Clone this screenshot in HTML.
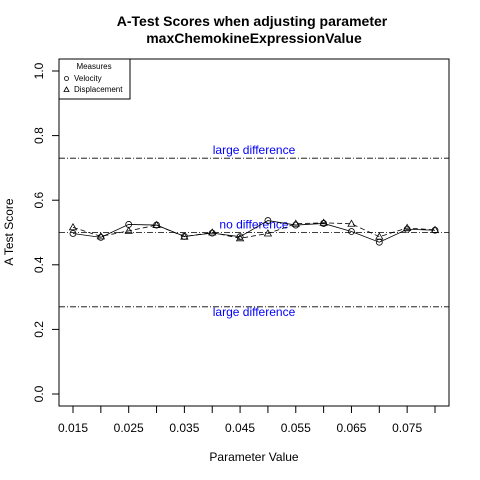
<!DOCTYPE html>
<html><head><meta charset="utf-8"><style>
body{margin:0;background:#fff}
svg{display:block;font-family:"Liberation Sans",sans-serif}
</style></head><body>
<svg id="chart" width="480" height="480" viewBox="0 0 480 480">
<text x="252" y="26" text-anchor="middle" font-size="14" font-weight="bold">A-Test Scores when adjusting parameter</text>
<text x="254" y="43" text-anchor="middle" font-size="14" font-weight="bold">maxChemokineExpressionValue</text>
<rect x="59" y="59" width="390" height="347" fill="none" stroke="#000"/>
<text x="254" y="461" text-anchor="middle" font-size="12">Parameter Value</text>
<text transform="translate(13,232) rotate(-90)" text-anchor="middle" font-size="12">A Test Score</text>
<g id="axes"></g>
<g id="refs"></g>
<g id="series"></g>
<g>
<rect x="59" y="59" width="71" height="40" fill="#fff" stroke="#000"/>
<text x="94" y="69" text-anchor="middle" font-size="8">Measures</text>
<circle cx="66.5" cy="78.5" r="2" fill="none" stroke="#000" stroke-width="0.8"/>
<text x="74" y="81" font-size="8">Velocity</text>
<path d="M64,91.5 L66.5,87 L69,91.5 Z" fill="none" stroke="#000" stroke-width="0.8"/>
<text x="74" y="92" font-size="8">Displacement</text>
</g>
</svg>
<script>
const params=[0.015,0.020,0.025,0.030,0.035,0.040,0.045,0.050,0.055,0.060,0.065,0.070,0.075,0.080];
const velocity=[0.497,0.485,0.525,0.523,0.488,0.498,0.487,0.537,0.523,0.528,0.503,0.470,0.510,0.507];
const displacement=[0.516,0.488,0.505,0.523,0.487,0.500,0.482,0.497,0.527,0.530,0.527,0.487,0.514,0.508];
const yTicks=[0,0.2,0.4,0.6,0.8,1.0];
const xLabels=[0.015,0.025,0.035,0.045,0.055,0.065,0.075];
const refLines=[0.73,0.5,0.27];
const refLabels=["large difference","no difference","large difference"];
const NS="http://www.w3.org/2000/svg";
const xs=v=>73+(v-0.015)/0.065*362;
const ys=v=>394-v*323;
function mk(tag,attrs,parent){const e=document.createElementNS(NS,tag);for(const k in attrs)e.setAttribute(k,attrs[k]);document.getElementById(parent).appendChild(e);return e;}
mk('line',{x1:73,x2:435,y1:406,y2:406,stroke:'#000'},'axes');
params.forEach(p=>{const t=mk('line',{x1:xs(p),x2:xs(p),y1:406,y2:413,stroke:'#000'},'axes');

});
xLabels.forEach(p=>{const t=mk('text',{x:xs(p),y:432,'text-anchor':'middle','font-size':12},'axes');t.textContent=p.toFixed(3);

});
mk('line',{x1:59,x2:59,y1:ys(0),y2:ys(1),stroke:'#000'},'axes');
yTicks.forEach(v=>{mk('line',{x1:52,x2:59,y1:ys(v),y2:ys(v),stroke:'#000'},'axes');
const t=mk('text',{transform:`translate(43,${ys(v)}) rotate(-90)`,'text-anchor':'middle','font-size':12},'axes');t.textContent=v.toFixed(1);

});
refLines.forEach((v,i)=>{const l=mk('line',{x1:59,x2:449,y1:ys(v),y2:ys(v),stroke:'#000','stroke-dasharray':'6,2,1,2','stroke-width':0.8},'refs');


const t=mk('text',{x:254,y:ys(v)+(i==2?9:-4),'text-anchor':'middle','font-size':12,fill:'#0000ff'},'refs');t.textContent=refLabels[i];

});
function series(vals,dash,shape,name){
const pl=mk('polyline',{points:vals.map((v,i)=>xs(params[i])+','+ys(v)).join(' '),fill:'none',stroke:'#000','stroke-width':0.8,'stroke-dasharray':dash},'series');


vals.forEach((v,i)=>{const x=xs(params[i]),y=ys(v);let m;
if(shape=='c')m=mk('circle',{cx:x,cy:y,r:3,fill:'none',stroke:'#000','stroke-width':0.8},'series');
else m=mk('path',{d:`M${x-3.5},${y+2.5} L${x},${y-3.5} L${x+3.5},${y+2.5} Z`,fill:'none',stroke:'#000','stroke-width':0.8},'series');

});}
series(velocity,'none','c','velocity');
series(displacement,'5,3','t','displacement');
</script>
</body></html>
